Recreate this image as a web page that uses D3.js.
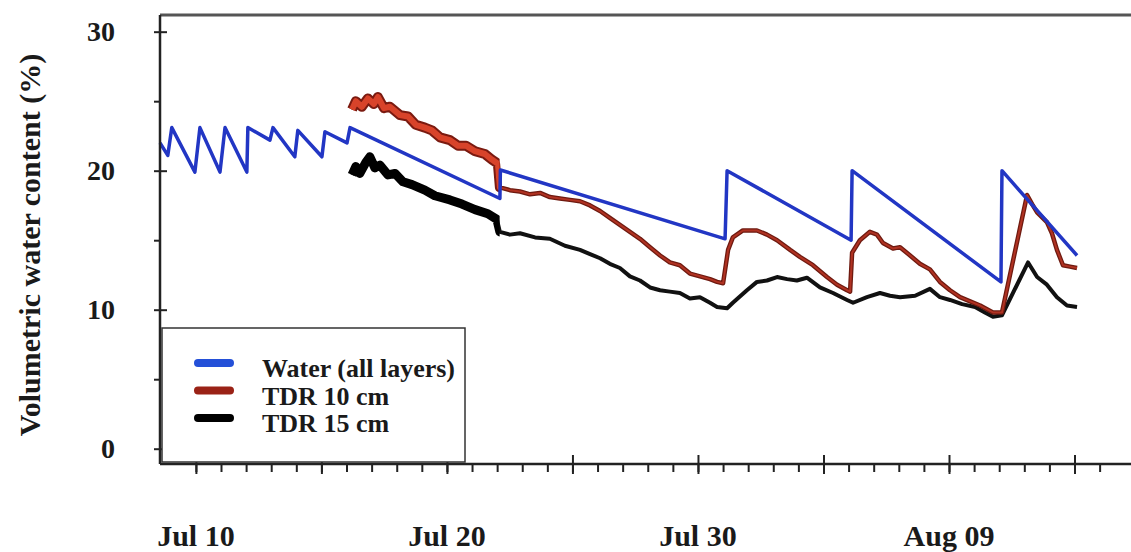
<!DOCTYPE html>
<html>
<head>
<meta charset="utf-8">
<script src="https://cdn.jsdelivr.net/npm/d3@7"></script>
<style>
  body { margin: 0; background: #fff; }
  svg { display: block; font-family: "Liberation Serif", "Times New Roman", serif; font-weight: bold; }
</style>
</head>
<body>
<svg id="chart" width="1131" height="552"></svg>
<script>
// time in days counted from Jul 1 00:00 (Aug 01 = 32, Aug 09 = 40)
const waterDays = [8.57, 8.88, 9.04, 9.96, 10.16, 10.96, 11.16, 12.03, 12.07, 12.95, 13.07, 13.94, 14.06,
  15.02, 15.14, 16.02, 16.14, 22.11, 22.13, 31.08, 31.16, 36.10, 36.14, 42.07, 42.11, 45.10];
const waterValues = [22.0, 21.1, 23.1, 19.9, 23.1, 19.9, 23.1, 19.9, 23.1, 22.2, 23.1, 21.0, 22.9,
  21.0, 22.8, 22.0, 23.1, 18.0, 20.05, 15.1, 20.0, 15.0, 20.0, 12.0, 20.0, 13.9];

const tdr10Days = [16.22, 16.37, 16.61, 16.85, 17.09, 17.25, 17.49, 17.73, 18.13, 18.45, 18.76, 19.12, 19.40,
  19.72, 20.12, 20.44, 20.76, 21.12, 21.51, 21.79, 22.03, 22.11, 22.51, 22.91, 23.31, 23.71, 24.10, 24.50,
  24.90, 25.30, 25.70, 26.10, 26.49, 26.89, 27.29, 27.69, 28.09, 28.49, 28.88, 29.28, 29.68, 30.08, 30.48,
  30.76, 31.00, 31.20, 31.39, 31.79, 32.35, 32.75, 33.15, 33.67, 34.06, 34.58, 35.14, 35.54, 35.94, 36.06,
  36.14, 36.45, 36.85, 37.13, 37.37, 37.77, 38.05, 38.45, 38.84, 39.24, 39.64, 40.04, 40.44, 40.84, 41.24,
  41.75, 42.11, 43.11, 43.31, 43.51, 43.90, 44.10, 44.30, 44.54, 44.82, 45.10];
const tdr10Values = [24.4, 25.0, 24.6, 25.2, 24.8, 25.3, 24.5, 24.6, 24.0, 23.9, 23.3, 23.1, 22.9,
  22.4, 22.2, 21.8, 21.8, 21.4, 21.2, 20.8, 20.5, 18.8, 18.6, 18.5, 18.3, 18.4, 18.1, 18.0,
  17.9, 17.8, 17.5, 17.1, 16.6, 16.1, 15.6, 15.1, 14.5, 13.9, 13.4, 13.2, 12.6, 12.4, 12.2,
  12.0, 11.9, 14.3, 15.2, 15.7, 15.7, 15.4, 15.0, 14.3, 13.8, 13.2, 12.35, 11.8, 11.4, 11.3,
  14.1, 15.0, 15.6, 15.4, 14.8, 14.4, 14.5, 13.9, 13.3, 12.9, 12.0, 11.4, 10.9, 10.6, 10.3,
  9.8, 9.8, 18.25, 17.6, 17.0, 16.3, 15.5, 14.3, 13.2, 13.1, 13.0];

const tdr15Days = [16.22, 16.37, 16.53, 16.77, 16.93, 17.13, 17.33, 17.65, 17.93, 18.25, 18.61, 19.12, 19.52,
  20.12, 20.60, 21.12, 21.63, 21.99, 22.11, 22.51, 22.91, 23.51, 24.10, 24.70, 25.30, 25.70, 26.10, 26.49,
  26.89, 27.29, 27.69, 28.09, 28.49, 28.88, 29.28, 29.68, 30.08, 30.48, 30.76, 31.16, 31.39, 31.95, 32.35,
  32.75, 33.15, 33.55, 33.94, 34.34, 34.86, 35.38, 35.94, 36.18, 36.73, 37.25, 37.65, 38.05, 38.65, 39.24,
  39.64, 40.04, 40.52, 41.04, 41.43, 41.75, 42.11, 43.15, 43.51, 43.90, 44.30, 44.70, 45.10];
const tdr15Values = [19.7, 20.3, 19.8, 20.6, 21.0, 20.2, 20.4, 19.7, 19.8, 19.2, 19.0, 18.6, 18.2,
  17.9, 17.6, 17.2, 16.9, 16.5, 15.6, 15.4, 15.5, 15.2, 15.1, 14.6, 14.3, 14.0, 13.7, 13.3,
  13.0, 12.4, 12.1, 11.6, 11.4, 11.3, 11.2, 10.8, 10.9, 10.5, 10.2, 10.1, 10.5, 11.4, 12.0,
  12.1, 12.35, 12.2, 12.1, 12.3, 11.6, 11.2, 10.7, 10.5, 10.9, 11.2, 11.0, 10.9, 11.0, 11.5,
  10.9, 10.7, 10.4, 10.2, 9.8, 9.5, 9.6, 13.4, 12.35, 11.8, 10.9, 10.3, 10.2];

const yMajorTicks = [0, 10, 20, 30];
const yMinorTicks = [5, 15, 25];
const xLabelDays = [10, 20, 30, 40];
const legendNames = ['Water (all layers)', 'TDR 10 cm', 'TDR 15 cm'];
const noisyUntil = 22.1; // sensors are noisy up to here

const base = new Date(2012, 6, 1);
const toDate = d => new Date(base.getTime() + (d - 1) * 864e5);

const svg = d3.select('#chart');
const plotLeft = 160, plotRight = 1131, plotTop = 15, plotBottom = 464;

const x = d3.scaleTime()
  .domain([toDate(8.57), toDate(47.25)])
  .range([plotLeft, plotRight]);

const y = d3.scaleLinear()
  .domain([-1.1, 31.2])
  .range([plotBottom, plotTop]);

// clip for the thick noisy stretch
svg.append('defs').append('clipPath')
    .attr('id', 'noisy')
  .append('rect')
    .attr('x', x(toDate(16)))
    .attr('y', plotTop)
    .attr('width', x(toDate(noisyUntil)) - x(toDate(16)))
    .attr('height', plotBottom - plotTop);

const zip = (days, vals) => days.map((d, i) => ({t: toDate(d), v: vals[i]}));
const line = d3.line().x(d => x(d.t)).y(d => y(d.v));

const water = zip(waterDays, waterValues);
const tdr10 = zip(tdr10Days, tdr10Values);
const tdr15 = zip(tdr15Days, tdr15Values);

const plot = svg.append('g').attr('class', 'plot-area');

// TDR 15 cm
plot.append('path').datum(tdr15)
  .attr('d', line).attr('fill', 'none')
  .attr('stroke', '#111').attr('stroke-width', 4).attr('stroke-linejoin', 'round');
plot.append('path').datum(tdr15)
  .attr('d', line).attr('fill', 'none').attr('clip-path', 'url(#noisy)')
  .attr('stroke', '#000').attr('stroke-width', 9).attr('stroke-linejoin', 'round');

// TDR 10 cm
plot.append('path').datum(tdr10)
  .attr('d', line).attr('fill', 'none')
  .attr('stroke', '#6e1a10').attr('stroke-width', 4.5).attr('stroke-linejoin', 'round');
plot.append('path').datum(tdr10)
  .attr('d', line).attr('fill', 'none')
  .attr('stroke', '#b03222').attr('stroke-width', 2).attr('stroke-linejoin', 'round');
plot.append('path').datum(tdr10)
  .attr('d', line).attr('fill', 'none').attr('clip-path', 'url(#noisy)')
  .attr('stroke', '#7a1a10').attr('stroke-width', 10).attr('stroke-linejoin', 'round');
plot.append('path').datum(tdr10)
  .attr('d', line).attr('fill', 'none').attr('clip-path', 'url(#noisy)')
  .attr('stroke', '#d8432a').attr('stroke-width', 6).attr('stroke-linejoin', 'round');

// water
plot.append('path').datum(water)
  .attr('d', line).attr('fill', 'none')
  .attr('stroke', '#2236c4').attr('stroke-width', 3.5).attr('stroke-linejoin', 'round');

// top border
svg.append('line')
  .attr('x1', plotLeft).attr('x2', plotRight).attr('y1', plotTop).attr('y2', plotTop)
  .attr('stroke', '#555').attr('stroke-width', 3);

// x axis
const allDays = d3.timeDay.range(toDate(10), toDate(47));
const majorDays = allDays.filter((d, i) => i % 5 === 0);

svg.append('g')
  .attr('class', 'x-axis')
  .attr('transform', `translate(0, ${plotBottom})`)
  .call(d3.axisBottom(x).tickValues(allDays).tickSize(8).tickFormat(''))
  .call(g => g.select('.domain').remove());

svg.append('g')
  .attr('class', 'x-axis-major')
  .attr('transform', `translate(0, ${plotBottom - 9})`)
  .call(d3.axisBottom(x).tickValues(majorDays).tickSize(19).tickFormat(''))
  .call(g => g.select('.domain').remove());

svg.selectAll('.x-axis line, .x-axis-major line')
  .attr('stroke', '#222').attr('stroke-width', 2);

svg.append('line')
  .attr('x1', plotLeft).attr('x2', plotRight).attr('y1', plotBottom).attr('y2', plotBottom)
  .attr('stroke', '#222').attr('stroke-width', 2.5);

svg.append('g')
  .attr('class', 'x-labels')
  .selectAll('text')
  .data(xLabelDays)
  .join('text')
    .attr('x', d => x(toDate(d)))
    .attr('y', 546)
    .attr('text-anchor', 'middle')
    .attr('font-size', 30)
    .attr('fill', '#1a1a1a')
    .text(d => d3.timeFormat('%b %d')(toDate(d)));

// y axis
svg.append('g')
  .attr('class', 'y-axis')
  .attr('transform', `translate(${plotLeft}, 0)`)
  .call(d3.axisLeft(y).tickValues(yMajorTicks).tickSize(6).tickPadding(39).tickFormat(d3.format('d')))
  .call(g => g.select('.domain').remove())
  .call(g => g.selectAll('.tick line').attr('x1', 7).attr('stroke', '#222').attr('stroke-width', 2))
  .call(g => g.selectAll('.tick text')
    .attr('font-size', 28).attr('font-family', '"Liberation Serif", serif').attr('fill', '#1a1a1a'));

svg.append('g')
  .attr('class', 'y-axis-minor')
  .attr('transform', `translate(${plotLeft}, 0)`)
  .call(d3.axisLeft(y).tickValues(yMinorTicks).tickSize(6).tickFormat(''))
  .call(g => g.select('.domain').remove())
  .call(g => g.selectAll('.tick line').attr('stroke', '#222').attr('stroke-width', 2));

svg.append('line')
  .attr('x1', plotLeft).attr('x2', plotLeft).attr('y1', plotTop).attr('y2', plotBottom)
  .attr('stroke', '#222').attr('stroke-width', 2.5);

svg.append('text')
  .attr('transform', `translate(40, 245) rotate(-90)`)
  .attr('text-anchor', 'middle')
  .attr('font-size', 30)
  .attr('fill', '#1a1a1a')
  .text('Volumetric water content (%)');

// legend
const legend = svg.append('g').attr('class', 'legend');
legend.append('rect')
  .attr('x', 162).attr('y', 328).attr('width', 303).attr('height', 134)
  .attr('fill', '#fff').attr('stroke', '#333').attr('stroke-width', 1.5);

const legendColors = ['#2450d8', '#9a2216', '#000'];
const item = legend.selectAll('.legend-item')
  .data(legendNames)
  .join('g')
    .attr('class', 'legend-item')
    .attr('transform', (d, i) => `translate(0, ${363 + i * 27.5})`);

item.append('line')
  .attr('x1', 198).attr('x2', 230)
  .attr('stroke', (d, i) => legendColors[i])
  .attr('stroke-width', 8).attr('stroke-linecap', 'round');

item.append('text')
  .attr('x', 262).attr('y', 14)
  .attr('font-size', 26)
  .attr('fill', '#1a1a1a')
  .text(d => d);
</script>
</body>
</html>
